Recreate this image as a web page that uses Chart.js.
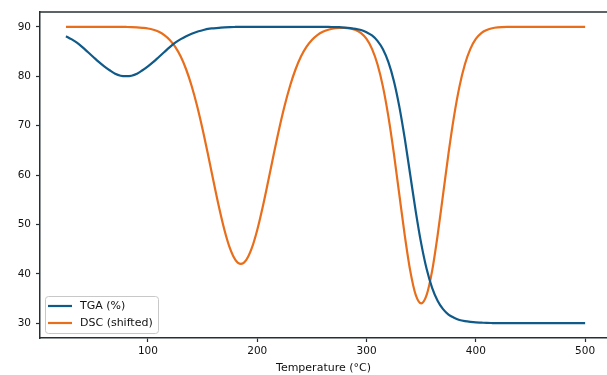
<!DOCTYPE html>
<html>
<head>
<meta charset="utf-8">
<script src="https://cdn.jsdelivr.net/npm/chart.js@4/dist/chart.umd.min.js"></script>
<style>
    html, body { margin: 0; padding: 0; background: #fff; overflow: hidden; }
    #wrap { width: 607px; height: 375px; }
</style>
</head>
<body>
<div id="wrap"><canvas id="thermo-chart" width="607" height="375"></canvas></div>
<script>
// temperatures (°C)
const temps = [
    25, 30, 35, 40, 45, 50, 55, 60, 65, 70, 75, 80, 85, 90, 95, 100,
    105, 110, 115, 120, 125, 130, 135, 140, 145, 150, 155, 160, 165, 170,
    175, 180, 185, 190, 195, 200, 205, 210, 215, 220, 225, 230, 235, 240,
    245, 250, 255, 260, 265, 270, 275, 280, 285, 290, 295, 300, 305, 310,
    315, 320, 325, 330, 335, 340, 345, 350, 355, 360, 365, 370, 375, 380,
    385, 390, 395, 400, 405, 410, 415, 420, 430, 440, 460, 480, 500
];

const tga = [
    88.1, 87.5, 86.8, 85.9, 84.9, 83.9, 82.9, 82.0, 81.2, 80.5, 80.1, 80.0, 80.1, 80.5, 81.2, 82.0,
    82.9, 83.9, 84.9, 85.9, 86.8, 87.5, 88.1, 88.6, 89.0, 89.3, 89.6, 89.7, 89.8, 89.9,
    89.95, 89.97, 89.98, 89.99, 90.0, 90.0, 90.0, 90.0, 90.0, 90.0, 90.0, 90.0, 90.0, 90.0,
    90.0, 90.0, 90.0, 90.0, 89.98, 89.95, 89.92, 89.85, 89.75, 89.6, 89.35, 88.9, 88.25, 87.15,
    85.45, 82.85, 79.05, 73.85, 67.35, 60.0, 52.65, 46.15, 40.95, 37.15, 34.55, 32.85, 31.75, 31.1,
    30.65, 30.4, 30.25, 30.15, 30.1, 30.05, 30.03, 30.02, 30.01, 30.0, 30.0, 30.0, 30.0
];

const dsc = [
    90.0, 90.0, 90.0, 90.0, 90.0, 90.0, 90.0, 90.0, 90.0, 89.99, 89.98, 89.97, 89.95, 89.9, 89.8, 89.66,
    89.4, 89.0, 88.33, 87.35, 85.93, 83.97, 81.36, 78.03, 73.98, 69.28, 64.11, 58.73, 53.52, 48.87,
    45.18, 42.82, 42.0, 42.82, 45.18, 48.87, 53.52, 58.73, 64.11, 69.28, 73.98, 78.03, 81.36, 83.97,
    85.93, 87.35, 88.33, 88.99, 89.4, 89.66, 89.76, 89.78, 89.67, 89.35, 88.72, 87.54, 85.54, 82.42,
    77.89, 71.82, 64.36, 56.03, 47.73, 40.58, 35.72, 34.0, 35.72, 40.58, 47.73, 56.03, 64.36, 71.82,
    77.89, 82.42, 85.54, 87.54, 88.72, 89.35, 89.72, 89.88, 89.98, 90.0, 90.0, 90.0, 90.0
];

const xTicks = [100, 200, 300, 400, 500];
const yTicks = [30, 40, 50, 60, 70, 80, 90];
const seriesLabels = ["TGA (%)", "DSC (shifted)"];
const seriesColors = ["#105a89", "#e86e1c"];

const axisColor = "#263034";
const textColor = "#111";
const fontFamily = "'DejaVu Sans', sans-serif";

function toPoints(xs, ys) {
    return xs.map((x, i) => ({ x: x, y: ys[i] }));
}

// top border line + legend box in the lower left, like the matplotlib figure
const framePlugin = {
    id: "frame",
    afterDraw(chart) {
        const ctx = chart.ctx;
        const area = chart.chartArea;
        ctx.save();
        ctx.strokeStyle = axisColor;
        ctx.lineWidth = 1.5;
        ctx.beginPath();
        ctx.moveTo(area.left, area.top);
        ctx.lineTo(area.right, area.top);
        ctx.stroke();

        // legend
        const bx = area.left + 5, by = 296, bw = 113, bh = 37;
        ctx.fillStyle = "rgba(255,255,255,0.8)";
        ctx.strokeStyle = "#c8c8c8";
        ctx.lineWidth = 1;
        ctx.beginPath();
        ctx.roundRect(bx + 0.5, by + 0.5, bw, bh, 3);
        ctx.fill();
        ctx.stroke();

        ctx.font = "11px " + fontFamily;
        ctx.textBaseline = "middle";
        chart.data.datasets.forEach((ds, i) => {
            const y = by + 10 + i * 17;
            ctx.strokeStyle = ds.borderColor;
            ctx.lineWidth = 2.2;
            ctx.beginPath();
            ctx.moveTo(bx + 3, y);
            ctx.lineTo(bx + 27, y);
            ctx.stroke();
            ctx.fillStyle = textColor;
            ctx.fillText(ds.label, bx + 35, y);
        });
        ctx.restore();
    },
};

const chartElement = document.getElementById("thermo-chart");

const chartData = {
    datasets: [
        {
            label: seriesLabels[0],
            data: toPoints(temps, tga),
            borderColor: seriesColors[0],
            borderWidth: 2.2,
            pointRadius: 0,
            cubicInterpolationMode: "monotone",
            fill: false,
        },
        {
            label: seriesLabels[1],
            data: toPoints(temps, dsc),
            borderColor: seriesColors[1],
            borderWidth: 2.2,
            pointRadius: 0,
            cubicInterpolationMode: "monotone",
            fill: false,
        },
    ],
};

const chartOptions = {
    responsive: false,
    animation: false,
    devicePixelRatio: 1,
    layout: {
        padding: { top: 12, right: 0, bottom: 0, left: 0 },
    },
    plugins: {
        legend: { display: false },
        tooltip: { enabled: false },
    },
    scales: {
        x: {
            type: "linear",
            min: 1.25,
            max: 520,
            afterBuildTicks: (scale) => {
                scale.ticks = xTicks.map((v) => ({ value: v }));
            },
            afterFit: (scale) => {
                scale.height = 37;
            },
            grid: {
                display: true,
                drawOnChartArea: false,
                drawTicks: true,
                tickLength: 4,
                tickWidth: 1.2,
                tickColor: axisColor,
            },
            border: { display: true, color: axisColor, width: 1.5 },
            ticks: {
                color: textColor,
                font: { family: fontFamily, size: 10.5 },
                padding: 3,
                maxRotation: 0,
            },
            title: {
                display: true,
                text: "Temperature (°C)",
                color: textColor,
                font: { family: fontFamily, size: 11 },
                padding: { top: 1, bottom: 0 },
            },
        },
        y: {
            type: "linear",
            min: 27,
            max: 93,
            afterBuildTicks: (scale) => {
                scale.ticks = yTicks.map((v) => ({ value: v }));
            },
            afterFit: (scale) => {
                scale.width = 40;
            },
            grid: {
                display: true,
                drawOnChartArea: false,
                drawTicks: true,
                tickLength: 4,
                tickWidth: 1.2,
                tickColor: axisColor,
            },
            border: { display: true, color: axisColor, width: 1.5 },
            ticks: {
                color: textColor,
                font: { family: fontFamily, size: 10.5 },
                padding: 5,
            },
        },
    },
};

window.thermoChart = new Chart(chartElement, {
    type: "line",
    data: chartData,
    options: chartOptions,
    plugins: [framePlugin],
});
</script>
</body>
</html>
